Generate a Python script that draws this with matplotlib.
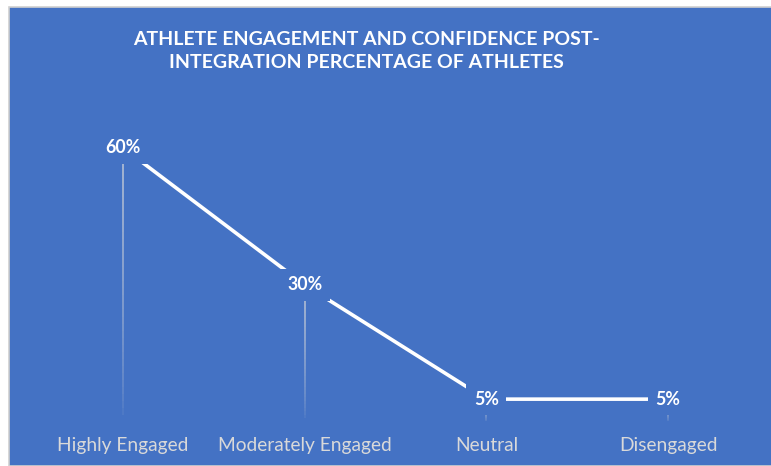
import numpy as np
import matplotlib.pyplot as plt
from matplotlib.patches import Rectangle
from matplotlib.collections import LineCollection

# Engagement levels post-integration
categories = ['Highly Engaged', 'Moderately Engaged', 'Neutral', 'Disengaged']
percentages = [60, 30, 5, 5]

blue = '#4472C4'

fig = plt.figure(figsize=(7.71, 4.66), dpi=100)
fig.patch.set_facecolor('white')
# blue chart panel with thin grey frame, as in the screenshot
panel = Rectangle((9 / 771, 0), 1, 1 - 7 / 466, transform=fig.transFigure,
                  facecolor=blue, edgecolor='#d0d0d0', linewidth=1.2, zorder=-5)
fig.add_artist(panel)

ax = fig.add_axes([32 / 771, 44 / 466, 727 / 771, 320 / 466])
ax.set_facecolor('none')

x = np.arange(len(categories))
ax.plot(x, percentages, color='white', linewidth=2.6, zorder=2, solid_capstyle='butt')

# drop lines fading toward the axis
for xi, v in zip(x, percentages):
    ys = np.linspace(v, 0, 40)
    segs = [[(xi, ys[i]), (xi, ys[i + 1])] for i in range(len(ys) - 1)]
    alphas = np.linspace(0.75, 0.0, len(segs)) ** 0.6
    cols = [(0.85, 0.85, 0.85, a) for a in alphas]
    ax.add_collection(LineCollection(segs, colors=cols, linewidths=1.1, zorder=1))

for xi, v in zip(x, percentages):
    ax.text(xi, v, f'{v}%', ha='center', va='center', color='white',
            fontsize=12.8, fontweight='bold', family='Lato', zorder=4,
            bbox=dict(boxstyle='square,pad=0.42', facecolor=blue, edgecolor='none'))

ax.set_xlim(-0.5, len(categories) - 0.5)
ax.set_ylim(0, 70)
ax.set_xticks(x)
ax.set_xticklabels(categories, color='#d9d9d9', fontsize=13.8, family='Lato')
ax.tick_params(axis='x', length=0, pad=11)
ax.set_yticks([])
for s in ax.spines.values():
    s.set_visible(False)

fig.text(366 / 771, 1 - 51 / 466,
         'ATHLETE ENGAGEMENT AND CONFIDENCE POST-\nINTEGRATION PERCENTAGE OF ATHLETES',
         ha='center', va='center', color='white', fontsize=14, fontweight='bold',
         family='Lato', linespacing=1.45)

fig.savefig('out.png', dpi=100, facecolor=fig.get_facecolor())
